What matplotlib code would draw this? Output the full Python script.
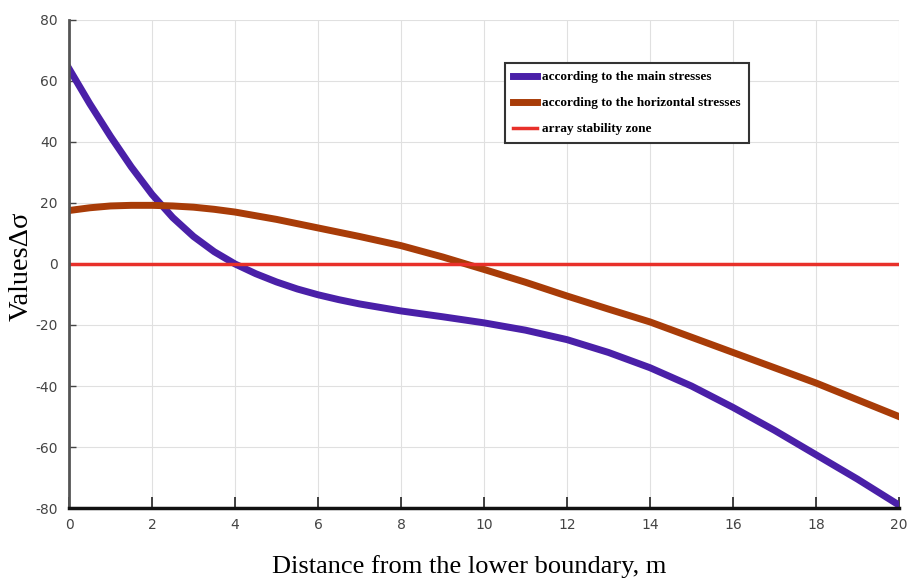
import numpy as np
import matplotlib.pyplot as plt

plt.rcParams['axes.unicode_minus'] = False

# values
dist_main = [0, 0.5, 1, 1.5, 2, 2.5, 3, 3.5, 4, 4.5, 5, 5.5, 6, 6.5, 7, 8, 9, 10, 11, 12, 13, 14, 15, 16, 17, 18, 19, 20]
main_stress = [64, 52.5, 41.8, 31.8, 22.8, 15.2, 9, 4, 0, -3.2, -5.9, -8.2, -10.1, -11.7, -13.1, -15.4, -17.3, -19.3,
               -21.7, -24.8, -29, -34, -40, -47, -54.5, -62.5, -70.5, -79]
dist_horiz = [0, 0.5, 1, 1.5, 2, 2.5, 3, 3.5, 4, 5, 6, 7, 8, 9, 10, 11, 12, 13, 14, 15, 16, 17, 18, 19, 20]
horiz_stress = [17.5, 18.4, 19, 19.2, 19.2, 19, 18.6, 17.9, 17, 14.6, 11.8, 9, 6, 2.3, -1.8, -6, -10.5, -14.8, -19,
                -24, -29, -34, -39, -44.5, -50]
dist_zone = [0, 20]
zone = [0, 0]

labels = ['according to the main stresses',
          'according to the horizontal stresses',
          'array stability zone']
colors = ['#4a20a8', '#a83c08', '#e8302a']

fig = plt.figure(figsize=(9.08, 5.82), dpi=100)
ax = fig.add_axes([0.076, 0.127, 0.914, 0.839])

ax.plot(dist_main, main_stress, c=colors[0], lw=5, label=labels[0], solid_joinstyle='round')
ax.plot(dist_horiz, horiz_stress, c=colors[1], lw=5, label=labels[1], solid_joinstyle='round')
ax.plot(dist_zone, zone, c=colors[2], lw=2.5, label=labels[2])

ax.set_xlim(0, 20)
ax.set_ylim(-80, 80)
ax.set_xticks(range(0, 21, 2))
ax.set_yticks(range(-80, 81, 20))
ax.grid(True, color='#e0e0e0', lw=0.8)
ax.set_axisbelow(True)

for s in ['top', 'right']:
    ax.spines[s].set_visible(False)
ax.spines['left'].set_color('#555555')
ax.spines['left'].set_linewidth(2)
ax.spines['bottom'].set_color('#111111')
ax.spines['bottom'].set_linewidth(2.5)

ax.tick_params(axis='x', direction='in', length=8, width=1.2, colors='#222222',
               labelcolor='#444444', labelsize=10, pad=7)
ax.tick_params(axis='y', direction='in', length=5, width=1, colors='#444444',
               labelcolor='#444444', labelsize=10, pad=8)

ax.set_xlabel('Distance from the lower boundary, m', family='Liberation Serif', fontsize=19)
ax.xaxis.set_label_coords(0.482, -0.097)
ax.set_ylabel('Values\u0394\u03c3', family='Liberation Serif', fontsize=20.5)
ax.yaxis.set_label_coords(-0.043, 0.496)

leg = ax.legend(loc='upper left', bbox_to_anchor=(0.518, 0.925), fancybox=False,
                edgecolor='#333333', framealpha=1, handlelength=1.8,
                prop={'family': 'Liberation Serif', 'weight': 'bold', 'size': 9.5},
                borderpad=0.6, labelspacing=1.05, handletextpad=0.4)
leg.get_frame().set_linewidth(1.5)

fig.savefig('out.png', dpi=100)
plt.close()
